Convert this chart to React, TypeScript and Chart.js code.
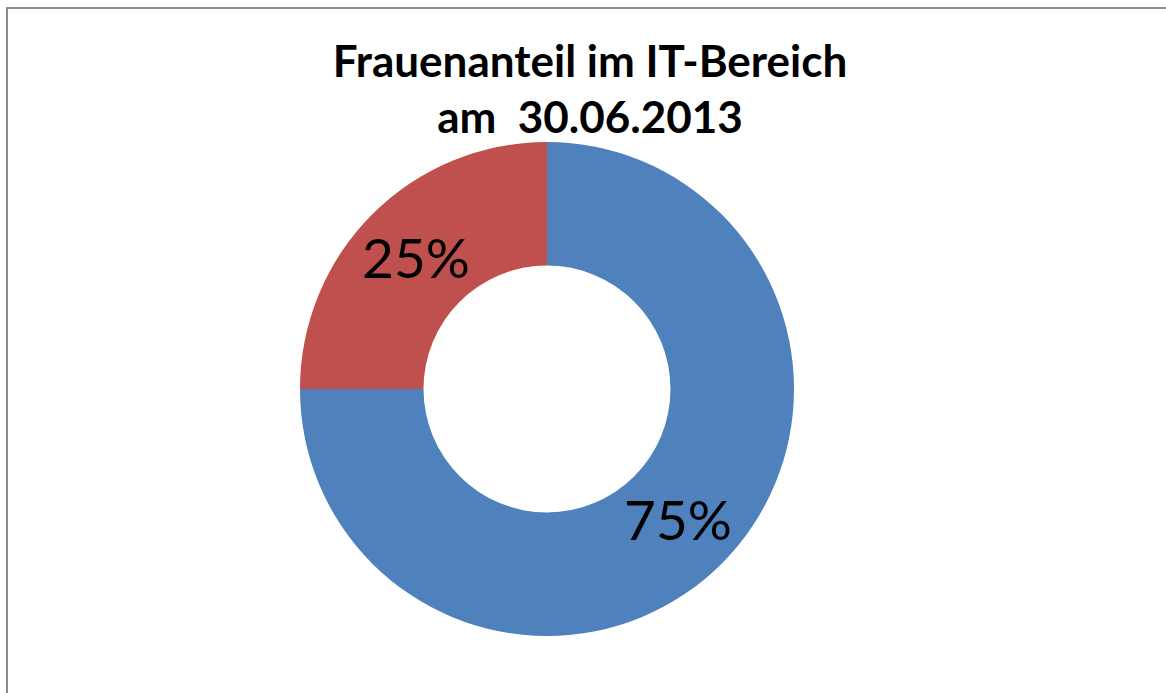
import React, { useEffect, useRef } from "react";
import { Chart, registerables } from "chart.js";

Chart.register(...registerables);

const categories: string[] = ["Männer", "Frauen"];
const shareValues: number[] = [75, 25];
const sliceColors: string[] = ["#4F81BD", "#C0504D"];
const titleLines: string[] = ["Frauenanteil im IT-Bereich", "am  30.06.2013"];

const labelPlugin = {
  id: "sliceLabels",
  afterDatasetsDraw(chart: any) {
    const ctx = chart.ctx;
    const meta = chart.getDatasetMeta(0);
    const ds = chart.data.datasets[0];
    const size = 55;
    ctx.save();
    ctx.font = `${size}px Lato, "Open Sans", sans-serif`;
    ctx.fillStyle = "#000000";
    ctx.textAlign = "center";
    ctx.textBaseline = "alphabetic";
    meta.data.forEach((arc: any, i: number) => {
      const p = arc.tooltipPosition();
      ctx.fillText(`${ds.data[i]}%`, p.x, p.y + size * 0.36);
    });
    ctx.restore();
  },
};

export default function App() {
  const ref = useRef<HTMLCanvasElement | null>(null);

  useEffect(() => {
    if (!ref.current) return;
    const chart = new Chart(ref.current, {
      type: "doughnut",
      data: {
        labels: categories,
        datasets: [
          {
            data: shareValues,
            backgroundColor: sliceColors,
            borderWidth: 0,
          },
        ],
      },
      options: {
        animation: false,
        responsive: false,
        maintainAspectRatio: false,
        cutout: "50%",
        layout: { padding: 0 },
        plugins: {
          legend: { display: false },
          tooltip: { enabled: false },
          title: { display: false },
        },
      },
      plugins: [labelPlugin],
    });
    return () => chart.destroy();
  }, []);

  return (
    <div
      style={{
        position: "fixed",
        left: 0,
        top: 0,
        width: 1166,
        height: 693,
        overflow: "hidden",
        background: "#ffffff",
      }}
    >
      <div
        style={{
          position: "absolute",
          left: 6,
          top: 7,
          width: 1300,
          height: 800,
          borderLeft: "2px solid #8c8c8c",
          borderTop: "2px solid #8c8c8c",
        }}
      />
      <div
        style={{
          position: "absolute",
          left: 0,
          top: 32,
          width: 1180,
          textAlign: "center",
          fontFamily: 'Lato, "Open Sans", sans-serif',
          fontWeight: 700,
          fontSize: 44,
          lineHeight: "56px",
          color: "#000000",
          whiteSpace: "pre",
        }}
      >
        {titleLines.map((t, i) => (
          <div key={i}>{t}</div>
        ))}
      </div>
      <canvas
        ref={ref}
        width={494}
        height={494}
        style={{ position: "absolute", left: 300, top: 142, width: 494, height: 494 }}
      />
    </div>
  );
}
